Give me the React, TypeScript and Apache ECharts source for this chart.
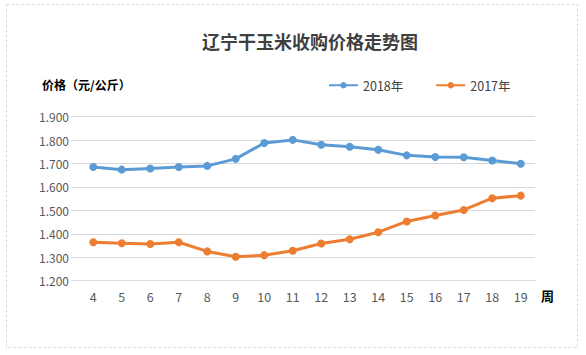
import React, { useEffect, useRef } from "react";
import * as echarts from "echarts";

const weeks = ["4", "5", "6", "7", "8", "9", "10", "11", "12", "13", "14", "15", "16", "17", "18", "19"];
const price2018 = [1.685, 1.674, 1.679, 1.685, 1.690, 1.720, 1.788, 1.801, 1.780, 1.772, 1.759, 1.735, 1.728, 1.727, 1.713, 1.699];
const price2017 = [1.364, 1.360, 1.357, 1.364, 1.325, 1.302, 1.309, 1.328, 1.359, 1.377, 1.407, 1.453, 1.478, 1.502, 1.552, 1.563];
const titleText = "辽宁干玉米收购价格走势图";
const yAxisTitle = "价格（元/公斤）";
const xAxisTitle = "周";
const seriesNames = ["2018年", "2017年"];

const FONT = "'Noto Sans CJK SC', 'Noto Sans', sans-serif";

export default function App() {
  const ref = useRef<HTMLDivElement>(null);
  useEffect(() => {
    document.body.style.margin = "0";
    const chart = echarts.init(ref.current!, null, { renderer: "svg" });
    chart.setOption({
      animation: false,
      backgroundColor: "#ffffff",
      title: {
        text: titleText,
        left: 305,
        top: 27,
        textAlign: "center",
        textStyle: { fontFamily: FONT, fontSize: 18, fontWeight: "bold", color: "#404040" },
      },
      legend: {
        left: 323,
        top: 74,
        itemWidth: 29,
        itemHeight: 8,
        itemGap: 32,
        textStyle: { fontFamily: FONT, fontSize: 12.5, color: "#404040" },
        data: seriesNames,
      },
      grid: { left: 79, right: 51, top: 116.7, bottom: 74.3, containLabel: false },
      xAxis: {
        type: "category",
        data: weeks,
        boundaryGap: true,
        axisLine: { show: true, lineStyle: { color: "#d9d9d9" } },
        axisTick: { show: false },
        axisLabel: { margin: 10, fontFamily: FONT, fontSize: 12.5, color: "#595959" },
      },
      yAxis: {
        type: "value",
        min: 1.2,
        max: 1.9,
        interval: 0.1,
        axisLine: { show: false },
        axisTick: { show: true, length: 8, lineStyle: { color: "#d9d9d9" } },
        splitLine: { lineStyle: { color: "#d9d9d9" } },
        axisLabel: {
          margin: 10,
          fontFamily: FONT,
          fontSize: 12,
          color: "#595959",
          formatter: (v: number) => v.toFixed(3),
        },
      },
      series: [
        {
          name: seriesNames[0],
          type: "line",
          data: price2018,
          symbol: "circle",
          symbolSize: 8,
          lineStyle: { width: 3, color: "#5B9BD5" },
          itemStyle: { color: "#5B9BD5" },
        },
        {
          name: seriesNames[1],
          type: "line",
          data: price2017,
          symbol: "circle",
          symbolSize: 8,
          lineStyle: { width: 3, color: "#ED7D31" },
          itemStyle: { color: "#ED7D31" },
        },
      ],
      graphic: [
        {
          type: "rect",
          shape: { x: 6.5, y: 4.5, width: 571, height: 343 },
          style: { fill: "none", stroke: "#d9d9d9", lineWidth: 1, lineDash: [3, 2] },
          silent: true,
        },
        {
          type: "text",
          left: 42,
          top: 78,
          style: { text: yAxisTitle, fontFamily: FONT, fontSize: 12, fontWeight: "bold", fill: "#000000" },
        },
        {
          type: "text",
          left: 541,
          top: 289,
          style: { text: xAxisTitle, fontFamily: FONT, fontSize: 13, fontWeight: "bold", fill: "#000000" },
        },
      ],
    });
    return () => chart.dispose();
  }, []);
  return <div ref={ref} style={{ position: "fixed", left: 0, top: 0, width: 586, height: 355 }} />;
}
